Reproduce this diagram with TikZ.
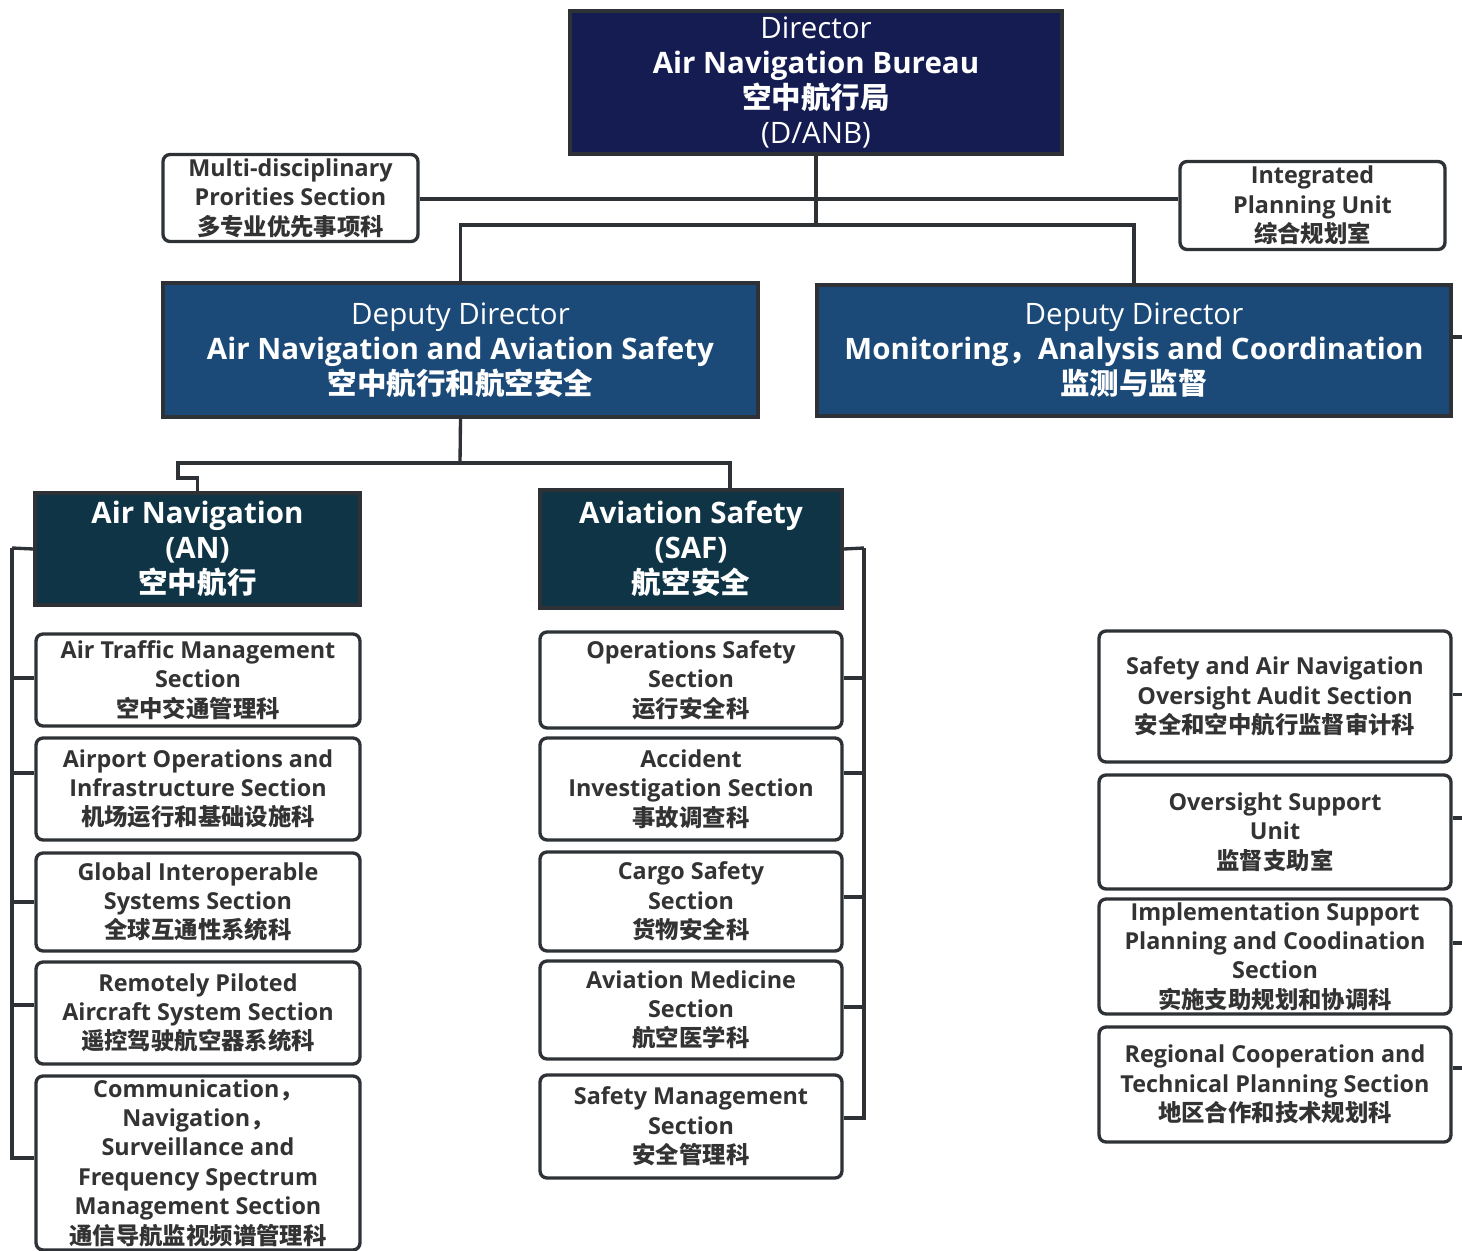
\documentclass[tikz,border=0pt]{standalone}
\usepackage{fontspec}
\setmainfont{Open Sans}
\newfontfamily\cjk{Noto Sans CJK SC}
\usepackage{xcolor}
\usepackage{tikz}
\usetikzlibrary{positioning}
\definecolor{dirnavy}{HTML}{141C52}
\definecolor{ddblue}{HTML}{1B4A78}
\definecolor{divteal}{HTML}{0E3446}
\definecolor{linegray}{HTML}{2E3236}
\definecolor{textgray}{HTML}{333333}
\newcommand{\zh}[1]{{\cjk #1}}

\begin{document}
\begin{tikzpicture}[x=0.02cm,y=-0.02cm,
    bigbox/.style={draw=linegray,line width=1.9pt,text=white,inner sep=0pt,align=center,font=\fontsize{16.8}{19.9}\selectfont},
    secbox/.style={draw=linegray,line width=1.9pt,rounded corners=0.14cm,fill=white,text=textgray,inner sep=0pt,align=center,font=\fontsize{13.3}{16.7}\selectfont\bfseries},
    link/.style={draw=linegray,line width=1.9pt}]
    \useasboundingbox (0,0) rectangle (1462,1250);

    % Director
    \node[bigbox,fill=dirnavy,minimum width=9.84cm,minimum height=2.86cm] (dir) at (816,82.5) {Director\\\textbf{Air Navigation Bureau}\\\textbf{\zh{空中航行局}}\\(D/ANB)};

    % Staff units
    \node[secbox,minimum width=5.1cm,minimum height=1.74cm] (mdps) at (290.5,198) {Multi-disciplinary\\Prorities Section\\\zh{多专业优先事项科}};
    \node[secbox,minimum width=5.3cm,minimum height=1.76cm] (ipu) at (1312.5,205.5) {Integrated\\Planning Unit\\\zh{综合规划室}};

    % Deputy directors
    \node[bigbox,fill=ddblue,minimum width=11.9cm,minimum height=2.68cm] (ddans) at (460.5,350) {Deputy Director\\\textbf{Air Navigation and Aviation Safety}\\\textbf{\zh{空中航行和航空安全}}};
    \node[bigbox,fill=ddblue,minimum width=12.68cm,minimum height=2.62cm] (ddmac) at (1134,350.5) {Deputy Director\\\textbf{Monitoring\zh{，}Analysis and Coordination}\\\textbf{\zh{监测与监督}}};

    % Divisions
    \node[bigbox,fill=divteal,font=\fontsize{16.8}{19.9}\selectfont\bfseries,minimum width=6.5cm,minimum height=2.24cm] (an) at (197.5,549) {Air Navigation\\(AN)\\\zh{空中航行}};
    \node[bigbox,fill=divteal,font=\fontsize{16.8}{19.9}\selectfont\bfseries,minimum width=6.04cm,minimum height=2.36cm] (saf) at (691,549) {Aviation Safety\\(SAF)\\\zh{航空安全}};

    % AN sections
    \node[secbox,minimum width=6.48cm,minimum height=1.84cm] (atm) at (198,680) {Air Traffic Management\\Section\\\zh{空中交通管理科}};
    \node[secbox,minimum width=6.48cm,minimum height=2.04cm] (aoi) at (198,789) {Airport Operations and\\Infrastructure Section\\\zh{机场运行和基础设施科}};
    \node[secbox,minimum width=6.48cm,minimum height=1.96cm] (gis) at (198,902) {Global Interoperable\\Systems Section\\\zh{全球互通性系统科}};
    \node[secbox,minimum width=6.48cm,minimum height=2.04cm] (rpas) at (198,1013) {Remotely Piloted\\Aircraft System Section\\\zh{遥控驾驶航空器系统科}};
    \node[secbox,minimum width=6.48cm,minimum height=3.48cm] (cns) at (198,1163) {Communication\zh{，}\\Navigation\zh{，}\\Surveillance and\\Frequency Spectrum\\Management Section\\\zh{通信导航监视频谱管理科}};

    % SAF sections
    \node[secbox,minimum width=6.04cm,minimum height=1.92cm] (oss) at (691,680) {Operations Safety\\Section\\\zh{运行安全科}};
    \node[secbox,minimum width=6.04cm,minimum height=2.04cm] (ais) at (691,789) {Accident\\Investigation Section\\\zh{事故调查科}};
    \node[secbox,minimum width=6.04cm,minimum height=1.98cm] (css) at (691,901.5) {Cargo Safety\\Section\\\zh{货物安全科}};
    \node[secbox,minimum width=6.04cm,minimum height=1.96cm] (ams) at (691,1010) {Aviation Medicine\\Section\\\zh{航空医学科}};
    \node[secbox,minimum width=6.04cm,minimum height=2.06cm] (sms) at (691,1126.5) {Safety Management\\Section\\\zh{安全管理科}};

    % Monitoring sections
    \node[secbox,minimum width=7.04cm,minimum height=2.62cm] (sanoas) at (1275,696.5) {Safety and Air Navigation\\Oversight Audit Section\\\zh{安全和空中航行监督审计科}};
    \node[secbox,minimum width=7.04cm,minimum height=2.28cm] (osu) at (1275,832) {Oversight Support\\Unit\\\zh{监督支助室}};
    \node[secbox,minimum width=7.04cm,minimum height=2.3cm] (ispc) at (1275,956.5) {Implementation Support\\Planning and Coodination\\Section\\\zh{实施支助规划和协调科}};
    \node[secbox,minimum width=7.04cm,minimum height=2.3cm] (rctp) at (1275,1084.5) {Regional Cooperation and\\Technical Planning Section\\\zh{地区合作和技术规划科}};

    % Director links
    \coordinate (staff) at (816,199);
    \coordinate (dsplit) at (816,225);
    \coordinate (rbus) at (1462,337);
    \draw[link] (mdps.east |- staff) -- (ipu.west |- staff);
    \draw[link] (dir.south) -- (dsplit);
    \draw[link] (ddans.north) |- (dsplit) -| (ddmac.north);
    \draw[link] (rbus -| ddmac.east) -- (rbus);

    % Deputy links
    \coordinate (asplit) at (460,463);
    \coordinate (jog) at (178,478);
    \draw[link] (ddans.south) -- (asplit);
    \draw[link] ([xshift=0.78cm]saf.north) |- (asplit) -| (jog) -| (an.north);

    % Section buses
    \coordinate (anbus) at (12,548);
    \coordinate (safbus) at (864,548);
    \draw[link] (an.west) -- (anbus);
    \draw[link] (saf.east) -- (safbus);
    \foreach \n/\dy in {atm/0.04,aoi/0.32,gis/0,rpas/0.16,cns/0.1}
        \draw[link] (anbus) |- ([yshift=\dy cm]\n.west);
    \foreach \n/\dy in {oss/0.04,ais/0.32,css/0.09,ams/0.06,sms/0.17}
        \draw[link] (safbus) |- ([yshift=\dy cm]\n.east);
    \foreach \n/\dy in {sanoas/0.04,osu/0.28,ispc/0.27,rctp/0.33}
        \draw[link] ([yshift=\dy cm]\n.east) -- ++(11,0);
\end{tikzpicture}
\end{document}
